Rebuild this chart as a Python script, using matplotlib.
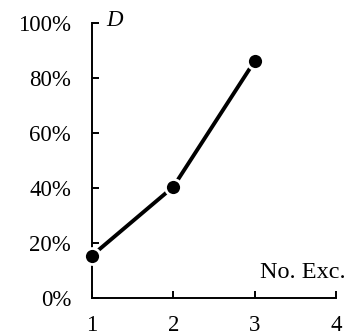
import matplotlib.pyplot as plt
from matplotlib.ticker import PercentFormatter

plt.rcParams['font.family'] = ['Liberation Serif', 'DejaVu Serif']

excursions = [1, 2, 3]
d_values = [15.5, 40.5, 86.2]
x_ticks = [1, 2, 3, 4]
y_ticks = [0, 20, 40, 60, 80, 100]


def main():
    fig = plt.figure(figsize=(3.54, 3.35), dpi=100)
    ax = fig.add_axes([0.26, 0.11, 0.689, 0.821])

    ax.plot(excursions, d_values, color='black', lw=2.8, marker='o',
            ms=11.5, mfc='black', mec='white', mew=2, clip_on=False, zorder=3)

    ax.set_xlim(1, 4)
    ax.set_ylim(0, 100)
    ax.set_xticks(x_ticks)
    ax.set_yticks(y_ticks)
    ax.yaxis.set_major_formatter(PercentFormatter(decimals=0))

    for side in ['top', 'right']:
        ax.spines[side].set_visible(False)
    for side in ['left', 'bottom']:
        ax.spines[side].set_linewidth(1.4)

    ax.tick_params(axis='both', direction='in', length=5, width=1.4,
                   labelsize=16.5)
    ax.tick_params(axis='y', pad=15)
    ax.tick_params(axis='x', pad=12)

    ax.text(0.06, 1.01, 'D', transform=ax.transAxes, fontsize=16.5,
            style='italic', ha='left', va='center')
    ax.text(1.04, 0.055, 'No. Exc.', transform=ax.transAxes, fontsize=17.5,
            ha='right', va='bottom')

    fig.savefig('out.png', dpi=100)


if __name__ == "__main__":
    main()
